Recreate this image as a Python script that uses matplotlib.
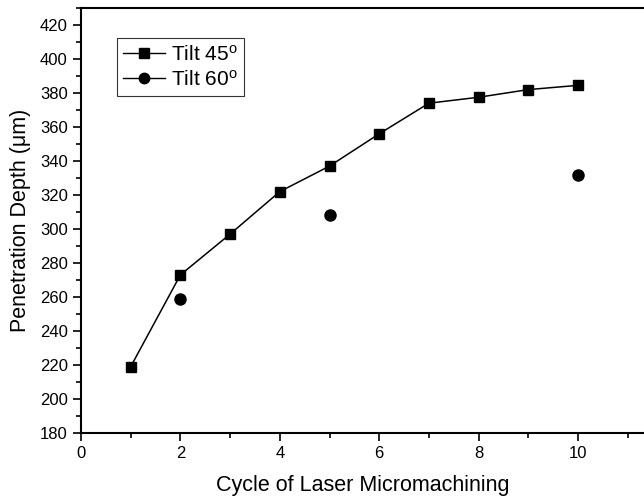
import matplotlib
matplotlib.use("Agg")
import matplotlib.pyplot as plt
from matplotlib.lines import Line2D
from matplotlib.ticker import MultipleLocator

plt.rcParams['font.family'] = ['Liberation Sans', 'DejaVu Sans']
plt.rcParams['mathtext.fontset'] = 'custom'
plt.rcParams['mathtext.rm'] = 'Liberation Sans'
plt.rcParams['mathtext.it'] = 'Liberation Sans:italic'

cycles_45 = [1, 2, 3, 4, 5, 6, 7, 8, 9, 10]
depth_45 = [219, 273, 297, 322, 337, 356, 374, 377.5, 382, 384.5]
cycles_60 = [2, 5, 10]
depth_60 = [259, 308, 332]

fig = plt.figure(figsize=(6.44, 4.96), dpi=100)
ax = fig.add_axes([81/644, 63/496, 1 - 81/644, (433-8)/496])

ax.plot(cycles_45, depth_45, color='black', lw=1.1, marker='s', ms=7.5)
ax.plot(cycles_60, depth_60, color='black', ls='none', marker='o', ms=8)

ax.set_xlim(0, (644-81)/49.7)
ax.set_ylim(180, 180 + 425/1.7)
ax.xaxis.set_major_locator(MultipleLocator(2))
ax.xaxis.set_minor_locator(MultipleLocator(1))
ax.yaxis.set_major_locator(MultipleLocator(20))
ax.yaxis.set_minor_locator(MultipleLocator(10))
ax.tick_params(which='major', direction='out', length=6, width=1.2, labelsize=12)
ax.tick_params(which='minor', direction='out', length=3.5, width=1.2)
ax.tick_params(top=False, right=False)
for s in ['left', 'bottom', 'top']:
    ax.spines[s].set_linewidth(1.5)
ax.spines['right'].set_visible(False)

ax.set_xlabel('Cycle of Laser Micromachining', fontsize=15.5, labelpad=10)
ax.set_ylabel('Penetration Depth (\u03bcm)', fontsize=15.5, labelpad=6)

handles = [Line2D([], [], color='black', lw=1.0, marker='s', ms=7),
           Line2D([], [], color='black', lw=1.0, marker='o', ms=7.5)]
leg = ax.legend(handles, ['Tilt 45$^{\\mathrm{o}}$', 'Tilt 60$^{\\mathrm{o}}$'],
                loc='upper left', bbox_to_anchor=(36/563, 1 - 30/425), fontsize=15,
                frameon=True, fancybox=False, edgecolor='black', handlelength=2.0,
                handletextpad=0.3, borderpad=0.3, labelspacing=0.25,
                borderaxespad=0)
leg.get_frame().set_linewidth(0.8)

fig.savefig('out.png', dpi=100)
